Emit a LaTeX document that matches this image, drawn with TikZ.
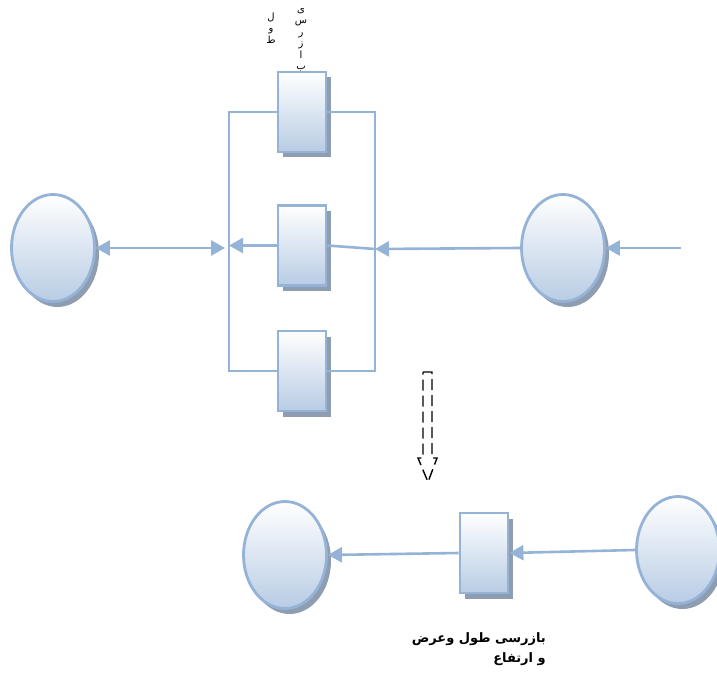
\documentclass[tikz,border=0pt]{standalone}
\usepackage{fontspec}
\newfontfamily\arabicfont[Script=Arabic]{DejaVu Sans}
\TeXXeTstate=1
\usetikzlibrary{shapes.geometric,arrows.meta,shadows}
\definecolor{ln}{RGB}{149,179,215}
\definecolor{fillb}{RGB}{184,204,228}
\definecolor{shd}{RGB}{143,157,176}
\tikzset{
  base/.style={draw=ln, line width=2.8pt, top color=white, bottom color=fillb,
    drop shadow={shadow xshift=4.5pt, shadow yshift=-5.5pt, fill=shd, opacity=1}},
  ell/.style={base, ellipse, minimum width=83pt, minimum height=107pt, inner sep=0pt},
  box/.style={base, rectangle, minimum width=48pt, minimum height=80pt, inner sep=0pt},
  conn/.style={draw=ln, line width=2.6pt},
  arr/.style={conn, -{Triangle[length=14pt,width=15pt]}},
  darr/.style={conn, {Triangle[length=14pt,width=15pt]}-{Triangle[length=14pt,width=15pt]}},
  lbl/.style={font=\arabicfont\bfseries\fontsize{13}{20}\selectfont, align=right, inner sep=0pt},
  vlbl/.style={font=\arabicfont\fontsize{10}{11.5}\selectfont, align=center, inner sep=0pt}
}
\begin{document}
\begin{tikzpicture}[x=1pt,y=-1pt]
\useasboundingbox (0,0) rectangle (717,679);
% top row
\node[ell] (E1) at (53,248) {};
\node[ell] (E2) at (563,248) {};
\node[box] (R1) at (302,112) {};
\node[box] (R2) at (302,245.5) {};
\node[box] (R3) at (302,371) {};
\coordinate (rin) at (681,248);
\coordinate (lbb) at (229,371);
\coordinate (rbb) at (375,371);
\coordinate (rm) at (375,249);
\coordinate (lm) at (225,248);
\draw[conn] (R1.west) -| (lbb) -- (R3.west);
\draw[conn] (R1.east) -| (rbb) -- (R3.east);
\draw[arr] (rin) -- (E2.east);
\draw[arr] (E2.west) -- (rm);
\draw[conn] (R2.east) -- (rm);
\draw[arr] (R2.west) -- (R2.west -| lbb);
\draw[darr] (E1.east) -- (lm);
% vertical label
\node[vlbl] (T1) at (301,40) {ی\\س\\ر\\ز\\ا\\ب};
\node[vlbl] (T2) at (271,28) {ل\\و\\ط};
% dashed block arrow
\draw[black, line width=1.4pt, dash pattern=on 11pt off 5pt]
  (423,372) -- (432,372) -- (432,458) -- (437,458) -- (428,482) -- (418,458) -- (423,458) -- cycle;
% bottom row
\node[ell] (E3) at (285,555) {};
\node[box] (R4) at (484,553) {};
\node[ell] (E4) at (678,550) {};
\draw[arr] (E4.west) -- (R4.east);
\draw[arr] (R4.west) -- (E3.east);
\node[lbl, anchor=north east] (T3) at (546,632) {\beginR بازرسی طول وعرض\endR\\\beginR و ارتفاع\endR};
\end{tikzpicture}
\end{document}
